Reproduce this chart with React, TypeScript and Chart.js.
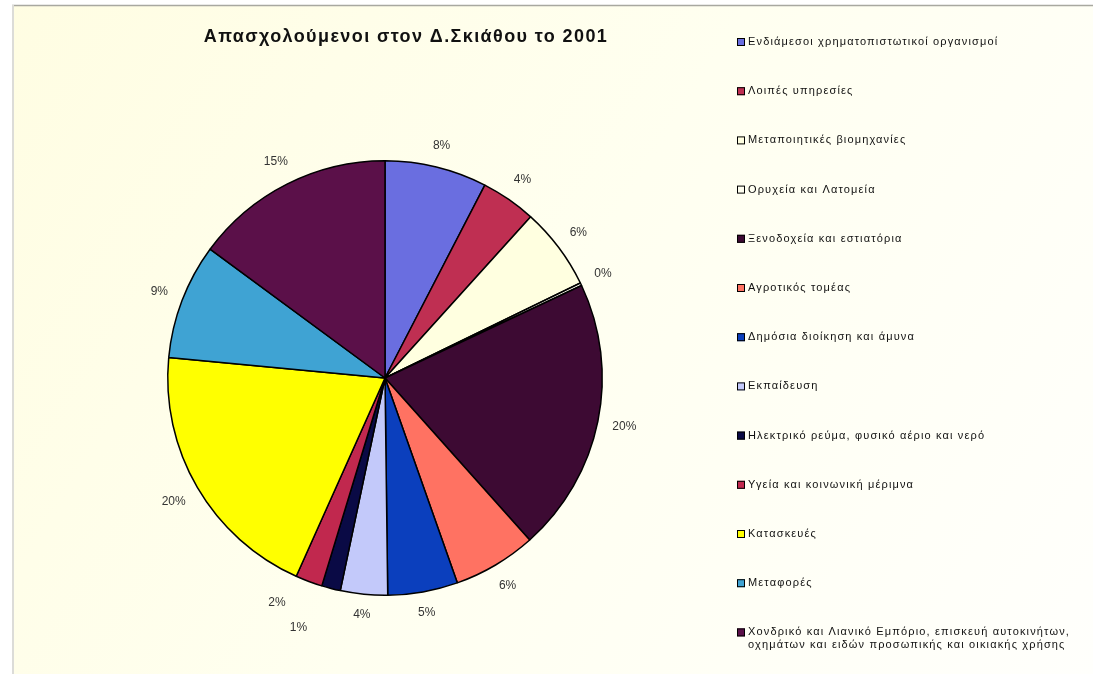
import React, { useEffect, useRef } from "react";
import { Chart, registerables } from "chart.js";

Chart.register(...registerables);

const title = "Απασχολούμενοι στον Δ.Σκιάθου το 2001";

const categories: (string | string[])[] = [
  "Ενδιάμεσοι χρηματοπιστωτικοί οργανισμοί",
  "Λοιπές υπηρεσίες",
  "Μεταποιητικές βιομηχανίες",
  "Ορυχεία και Λατομεία",
  "Ξενοδοχεία και εστιατόρια",
  "Αγροτικός τομέας",
  "Δημόσια διοίκηση και άμυνα",
  "Εκπαίδευση",
  "Ηλεκτρικό ρεύμα, φυσικό αέριο και νερό",
  "Υγεία και κοινωνική μέριμνα",
  "Κατασκευές",
  "Μεταφορές",
  [
    "Χονδρικό και Λιανικό Εμπόριο, επισκευή αυτοκινήτων,",
    "οχημάτων και ειδών προσωπικής και οικιακής χρήσης",
  ],
];

const values = [7.6, 4.1, 6.1, 0.2, 20.4, 6.2, 5.2, 3.5, 1.4, 2.0, 19.8, 8.6, 14.9];

const colors = [
  "#6a6ee0",
  "#bf2f52",
  "#ffffe0",
  "#fffff0",
  "#3d0a33",
  "#ff7262",
  "#0b3fbd",
  "#c3c9fa",
  "#0a0a45",
  "#c1284e",
  "#ffff00",
  "#3fa3d3",
  "#5b1049",
];

const FONT = '"Liberation Sans", Arial, sans-serif';

// extra label displacement (crowded small slices pushed outward, as the original does)
const labelShift: Record<number, [number, number]> = { 8: [-27, 18], 9: [-24, 0] };

const decorPlugin = {
  id: "decor",
  beforeDraw(chart: any) {
    const { ctx, width, height } = chart;
    ctx.save();
    const g = ctx.createLinearGradient(0, 0, width, height);
    g.addColorStop(0, "#fffde2");
    g.addColorStop(0.5, "#fffff0");
    g.addColorStop(1, "#fffffc");
    ctx.fillStyle = g;
    ctx.fillRect(0, 0, width, height);
    ctx.fillStyle = "#ffffff";
    ctx.fillRect(0, 0, width, 5);
    ctx.fillRect(0, 0, 12, height);
    ctx.strokeStyle = "#a8a8a0";
    ctx.lineWidth = 1.5;
    ctx.beginPath();
    ctx.moveTo(12, 5.5);
    ctx.lineTo(width, 5.5);
    ctx.stroke();
    ctx.strokeStyle = "#dcdcd8";
    ctx.lineWidth = 2;
    ctx.beginPath();
    ctx.moveTo(13, 5);
    ctx.lineTo(13, height);
    ctx.stroke();
    ctx.restore();
  },
  afterDraw(chart: any) {
    const { ctx } = chart;
    ctx.save();
    // title
    ctx.fillStyle = "#111";
    ctx.font = `bold 18px ${FONT}`;
    (ctx as any).letterSpacing = "1.4px";
    ctx.textAlign = "center";
    ctx.textBaseline = "middle";
    ctx.fillText(title, 406, 37);
    (ctx as any).letterSpacing = "0px";

    // data labels
    const meta = chart.getDatasetMeta(0);
    const total = values.reduce((a, b) => a + b, 0);
    ctx.font = `12px ${FONT}`;
    ctx.fillStyle = "#333";
    meta.data.forEach((arc: any, i: number) => {
      const mid = (arc.startAngle + arc.endAngle) / 2;
      const txt = Math.round((values[i] / total) * 100) + "%";
      const w = ctx.measureText(txt).width;
      const cx = Math.cos(mid);
      const sy = Math.sin(mid);
      const off = 14 + Math.abs(cx) * (w / 2) + Math.abs(sy) * 6;
      const r = arc.outerRadius + off;
      const s = labelShift[i] || [0, 0];
      ctx.fillText(txt, arc.x + cx * r + s[0], arc.y + sy * r + s[1]);
    });

    // legend
    ctx.textAlign = "left";
    ctx.font = `11px ${FONT}`;
    (ctx as any).letterSpacing = "1.15px";
    const x0 = 737;
    const y0 = 42;
    const step = 49.2;
    categories.forEach((c, i) => {
      const y = y0 + i * step;
      ctx.fillStyle = colors[i];
      ctx.fillRect(x0, y - 4, 8, 8);
      ctx.strokeStyle = "#000";
      ctx.lineWidth = 1;
      ctx.strokeRect(x0 + 0.5, y - 3.5, 7, 7);
      ctx.fillStyle = "#111";
      const lines = Array.isArray(c) ? c : [c];
      lines.forEach((ln, j) => {
        ctx.fillText(ln, x0 + 11, y + j * 13);
      });
    });
    ctx.restore();
  },
};

export default function App() {
  const ref = useRef<HTMLCanvasElement | null>(null);
  useEffect(() => {
    if (!ref.current) return;
    const chart = new Chart(ref.current, {
      type: "pie",
      data: {
        labels: categories.map((c) => (Array.isArray(c) ? c.join(" ") : c)),
        datasets: [
          {
            data: values,
            backgroundColor: colors,
            borderColor: "#000",
            borderWidth: 1.5,
          },
        ],
      },
      options: {
        animation: false,
        responsive: false,
        devicePixelRatio: 1,
        layout: { padding: { top: 160, bottom: 78, left: 167, right: 490 } },
        plugins: {
          legend: { display: false },
          tooltip: { enabled: false },
          title: { display: false },
        },
      },
      plugins: [decorPlugin],
    } as any);
    return () => chart.destroy();
  }, []);
  return (
    <div style={{ position: "fixed", left: 0, top: 0, width: 1093, height: 674 }}>
      <canvas ref={ref} width={1093} height={674} style={{ width: 1093, height: 674 }} />
    </div>
  );
}
